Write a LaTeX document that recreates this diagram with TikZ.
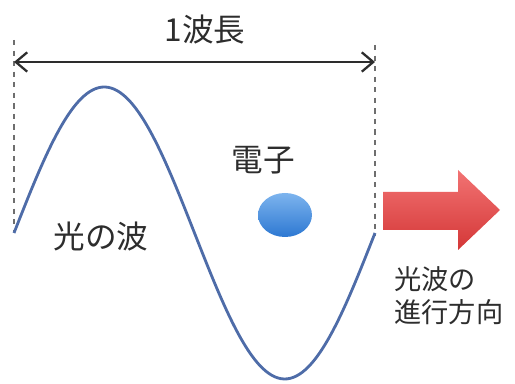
\documentclass[tikz,border=0pt]{standalone}
\usepackage{fontspec}
\setmainfont{Noto Sans CJK JP}
\usepackage{tikz}
\usetikzlibrary{arrows.meta,positioning,shapes.geometric}
\definecolor{WaveColor}{RGB}{78,108,168}
\definecolor{TextColor}{RGB}{45,45,45}
\definecolor{GuideColor}{RGB}{110,110,110}
\definecolor{ElectronTop}{RGB}{125,180,238}
\definecolor{ElectronBottom}{RGB}{45,120,210}
\definecolor{ArrowTop}{RGB}{242,115,115}
\definecolor{ArrowBottom}{RGB}{212,55,55}

\begin{document}
\begin{tikzpicture}[>={Straight Barb[length=6.5pt,width=11pt]}, x=0.02cm, y=-0.02cm, font=\fontsize{18}{20}\selectfont, text=TextColor]
  \useasboundingbox (0,0) rectangle (515,384);
  % guides and wavelength
  \coordinate (ltop) at (14,40);
  \coordinate (lbot) at (14,232);
  \coordinate (rtop) at (375,45);
  \coordinate (rbot) at (375,235);
  \coordinate (L) at (14,62);
  \coordinate (R) at (375,62);
  \draw[dashed, GuideColor, line width=0.8pt] (ltop)--(lbot);
  \draw[dashed, GuideColor, line width=0.8pt] (rtop)--(rbot);
  \draw[<->, TextColor, line width=1.3pt] (L)--(R);
  \node (len) at (205,30) {1波長};
  % light wave
  \draw[WaveColor, line width=1.6pt, domain=0:360, samples=120, smooth] plot ({14+\x*1.0028}, {233-146*sin(\x)});
  \node (wave) at (101,237) {光の波};
  % electron
  \node[ellipse, inner sep=0pt, minimum width=1.08cm, minimum height=0.88cm, top color=ElectronTop, bottom color=ElectronBottom] (e) at (285,215) {};
  \node (elabel) at (263,160) {電子};
  % direction
  \shade[top color=ArrowTop, bottom color=ArrowBottom] (383,192) -- (458,192) -- (458,170) -- (500,210) -- (458,250) -- (458,230) -- (383,230) -- cycle;
  \node[anchor=west, align=left, font=\fontsize{15.5}{18.7}\selectfont, inner sep=0pt] (dir) at (394,296) {光波の\\進行方向};
\end{tikzpicture}
\end{document}
